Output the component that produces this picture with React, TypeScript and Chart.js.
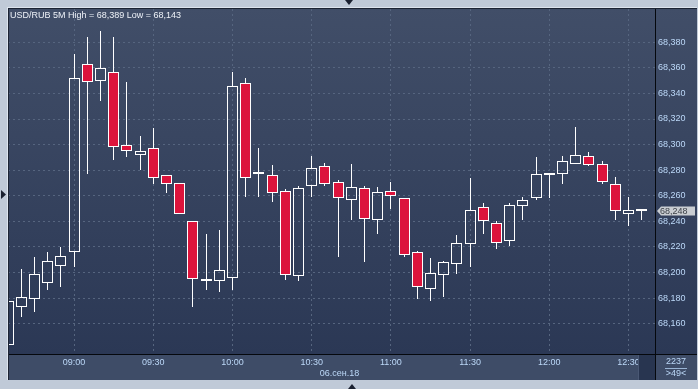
import React, { useEffect, useRef } from 'react';
import { Chart, registerables } from 'chart.js';

Chart.register(...registerables);

// ---------- data ----------
const TIMES = [
  '08:35', '08:40', '08:45', '08:50', '08:55',
  '09:00', '09:05', '09:10', '09:15', '09:20', '09:25',
  '09:30', '09:35', '09:40', '09:45', '09:50', '09:55',
  '10:00', '10:05', '10:10', '10:15', '10:20', '10:25',
  '10:30', '10:35', '10:40', '10:45', '10:50', '10:55',
  '11:00', '11:05', '11:10', '11:15', '11:20', '11:25',
  '11:30', '11:35', '11:40', '11:45', '11:50', '11:55',
  '12:00', '12:05', '12:10', '12:15', '12:20', '12:25',
  '12:30', '12:35', '12:40',
];

const OPEN = [
  68.143, 68.173, 68.179, 68.192, 68.205,
  68.216, 68.363, 68.350, 68.357, 68.300, 68.292,
  68.297, 68.276, 68.270, 68.240, 68.193, 68.193,
  68.196, 68.348, 68.277, 68.276, 68.264, 68.197,
  68.268, 68.283, 68.271, 68.257, 68.266, 68.241,
  68.264, 68.258, 68.216, 68.187, 68.198, 68.207,
  68.222, 68.251, 68.239, 68.225, 68.252, 68.258,
  68.276, 68.277, 68.285, 68.291, 68.285, 68.269,
  68.246, 68.248, null,
];

const HIGH = [
  68.178, 68.203, 68.212, 68.216, 68.220,
  68.371, 68.384, 68.389, 68.384, 68.349, 68.307,
  68.313, 68.276, 68.270, 68.240, 68.230, 68.233,
  68.357, 68.352, 68.297, 68.284, 68.265, 68.268,
  68.291, 68.286, 68.272, 68.285, 68.268, 68.267,
  68.271, 68.258, 68.217, 68.211, 68.209, 68.229,
  68.274, 68.254, 68.240, 68.254, 68.259, 68.290,
  68.278, 68.291, 68.314, 68.294, 68.287, 68.275,
  68.259, 68.249, null,
];

const LOW = [
  68.143, 68.165, 68.169, 68.186, 68.189,
  68.204, 68.277, 68.334, 68.288, 68.290, 68.280,
  68.269, 68.262, 68.246, 68.173, 68.186, 68.185,
  68.186, 68.259, 68.259, 68.255, 68.194, 68.193,
  68.259, 68.268, 68.212, 68.241, 68.208, 68.230,
  68.250, 68.212, 68.179, 68.178, 68.181, 68.199,
  68.204, 68.230, 68.218, 68.221, 68.241, 68.257,
  68.258, 68.269, 68.285, 68.283, 68.269, 68.241,
  68.236, 68.241, null,
];

const CLOSE = [
  68.178, 68.181, 68.199, 68.209, 68.213,
  68.352, 68.349, 68.360, 68.298, 68.295, 68.295,
  68.274, 68.269, 68.246, 68.195, 68.195, 68.202,
  68.346, 68.274, 68.277, 68.262, 68.198, 68.266,
  68.282, 68.269, 68.258, 68.267, 68.242, 68.263,
  68.260, 68.214, 68.189, 68.200, 68.208, 68.223,
  68.249, 68.240, 68.223, 68.253, 68.257, 68.277,
  68.278, 68.287, 68.292, 68.284, 68.271, 68.248,
  68.249, 68.248, null,
];

const Y_TICKS = [68.16, 68.18, 68.2, 68.22, 68.24, 68.26, 68.28, 68.3, 68.32, 68.34, 68.36, 68.38];
const Y_MIN = 68.1363;
const Y_MAX = 68.406;
const X_LABEL_MINUTES = ['00', '30'];

const TITLE = 'USD/RUB 5M High = 68,389 Low = 68,143';
const DATE_LABEL = '06.сен.18';
const LAST_PRICE = 68.248;
const COUNT_LABEL = '2237';
const ZOOM_LABEL = '>49<';

// ---------- style ----------
const W = 698;
const H = 389;
const OUTER = '#c0cad8';
const PLOT_TOP = '#414e68';
const PLOT_BOTTOM = '#2b3855';
const AXIS_BAND = '#3e4c67';
const GRID = '#56657f';
const TICK_TEXT = '#bcd8f8';
const RED = '#dc143c';
const WHITE = '#ffffff';
const FONT = 'Liberation Sans, Arial, sans-serif';

const fmt = (v: number) => v.toFixed(3).replace('.', ',');

// snaps the library-computed bar geometry onto the pixel grid for crisp 1px lines
const snapPlugin = {
  id: 'snap',
  afterDatasetsUpdate(chart: any) {
    chart.data.datasets.forEach((_: any, di: number) => {
      chart.getDatasetMeta(di).data.forEach((el: any) => {
        if (el.x == null || isNaN(el.x)) return;
        el.x = Math.floor(el.x) + 0.5;
        el.y = Math.round(el.y);
        el.base = Math.round(el.base);
      });
    });
  },
};

const framePlugin = {
  id: 'frame',
  beforeDraw(chart: any) {
    const { ctx, chartArea: a } = chart;
    const panelL = a.left;
    const panelT = a.top - 1;
    const bandB = a.bottom + 26;
    ctx.save();
    ctx.fillStyle = OUTER;
    ctx.fillRect(0, 0, W, H);
    const g = ctx.createLinearGradient(0, panelT, 0, a.bottom);
    g.addColorStop(0, PLOT_TOP);
    g.addColorStop(1, PLOT_BOTTOM);
    ctx.fillStyle = g;
    ctx.fillRect(panelL, panelT, W - 1 - panelL, a.bottom - panelT);
    ctx.fillStyle = AXIS_BAND;
    ctx.fillRect(panelL, a.bottom, W - 1 - panelL, bandB - a.bottom);
    ctx.restore();
  },
  afterDraw(chart: any) {
    const { ctx, chartArea: a } = chart;
    const panelL = a.left;
    const panelT = a.top - 1;
    const bandB = a.bottom + 26;
    ctx.save();
    // dark box at the end of the time band
    ctx.fillStyle = '#283550';
    ctx.fillRect(a.right - 16, a.bottom + 1, 16, bandB - a.bottom - 1);
    ctx.fillStyle = '#4a5874';
    ctx.fillRect(a.right - 17, a.bottom + 1, 1, bandB - a.bottom - 1);
    // corner cell
    ctx.fillStyle = AXIS_BAND;
    ctx.fillRect(a.right + 1, a.bottom + 1, W - 2 - a.right, bandB - a.bottom - 1);

    // black separators
    ctx.fillStyle = '#05080d';
    ctx.fillRect(a.right, panelT, 1, bandB - panelT);
    ctx.fillRect(panelL, a.bottom, W - 1 - panelL, 1);
    // panel border
    ctx.fillStyle = '#1c2434';
    ctx.fillRect(panelL, panelT, 1, bandB - panelT);
    ctx.fillRect(panelL, panelT, W - 1 - panelL, 1);
    ctx.fillStyle = '#dde4ee';
    ctx.fillRect(panelL - 1, panelT - 1, 1, bandB - panelT + 1);
    ctx.fillRect(panelL - 1, panelT - 1, W - panelL, 1);

    // title
    ctx.font = `9px ${FONT}`;
    ctx.fillStyle = '#eef2f8';
    ctx.textAlign = 'left';
    ctx.textBaseline = 'alphabetic';
    ctx.fillText(TITLE, panelL + 2, panelT + 10);

    // date label
    ctx.font = `9px ${FONT}`;
    ctx.fillStyle = TICK_TEXT;
    ctx.textAlign = 'center';
    ctx.textBaseline = 'middle';
    ctx.fillText(DATE_LABEL, 339.5, a.bottom + 19.5);

    // corner texts
    const cx = (a.right + W - 1) / 2;
    ctx.fillText(COUNT_LABEL, cx, a.bottom + 8);
    ctx.fillText(ZOOM_LABEL, cx, a.bottom + 20);
    ctx.fillStyle = '#9ab4d4';
    ctx.fillRect(cx - 11, a.bottom + 14, 22, 1);

    // last price tag
    const y = chart.scales.y.getPixelForValue(LAST_PRICE);
    const x0 = a.right + 2;
    ctx.beginPath();
    ctx.moveTo(x0, y);
    ctx.lineTo(x0 + 4, y - 4.5);
    ctx.lineTo(W - 3, y - 4.5);
    ctx.lineTo(W - 3, y + 4.5);
    ctx.lineTo(x0 + 4, y + 4.5);
    ctx.closePath();
    ctx.fillStyle = '#c9cdd2';
    ctx.fill();
    ctx.fillStyle = '#3a3f46';
    ctx.textAlign = 'left';
    ctx.fillText(fmt(LAST_PRICE), x0 + 3, y + 0.5);

    // frame arrows
    ctx.fillStyle = '#1a2030';
    ctx.beginPath();
    ctx.moveTo(345, 0); ctx.lineTo(353, 0); ctx.lineTo(349, 5); ctx.closePath(); ctx.fill();
    ctx.beginPath();
    ctx.moveTo(1, 190); ctx.lineTo(6, 194.5); ctx.lineTo(1, 199); ctx.closePath(); ctx.fill();
    ctx.beginPath();
    ctx.moveTo(348, 389); ctx.lineTo(356, 389); ctx.lineTo(352, 384); ctx.closePath(); ctx.fill();
    ctx.restore();
  },
};

export default function App() {
  const ref = useRef<HTMLCanvasElement>(null);

  useEffect(() => {
    if (!ref.current) return;
    const has = (i: number) => OPEN[i] != null;
    const isUp = (i: number) => has(i) && (CLOSE[i] as number) >= (OPEN[i] as number);
    const body = TIMES.map((_, i) => (has(i) ? [OPEN[i], CLOSE[i]] : null));
    const upperWick = TIMES.map((_, i) =>
      has(i) ? [Math.max(OPEN[i] as number, CLOSE[i] as number), HIGH[i]] : null);
    const lowerWick = TIMES.map((_, i) =>
      has(i) ? [LOW[i], Math.min(OPEN[i] as number, CLOSE[i] as number)] : null);
    const isMajor = (i: number) => X_LABEL_MINUTES.includes((TIMES[i] || '').slice(3));

    const chart = new Chart(ref.current, {
      type: 'bar',
      data: {
        labels: TIMES,
        datasets: [
          {
            data: body as any,
            backgroundColor: TIMES.map((_, i) => (isUp(i) ? 'rgba(0,0,0,0)' : RED)),
            borderColor: WHITE,
            borderWidth: 1,
            borderSkipped: false,
            barThickness: 11,
            minBarLength: 2,
            grouped: false,
            inflateAmount: 0,
            clip: 0,
          } as any,
          {
            data: upperWick as any,
            backgroundColor: WHITE,
            borderWidth: 0,
            barThickness: 1,
            grouped: false,
            inflateAmount: 0,
            clip: 0,
          } as any,
          {
            data: lowerWick as any,
            backgroundColor: WHITE,
            borderWidth: 0,
            barThickness: 1,
            grouped: false,
            inflateAmount: 0,
            clip: 0,
          } as any,
        ],
      },
      options: {
        animation: false,
        responsive: false,
        devicePixelRatio: 1,
        events: [],
        layout: { padding: { left: 8, top: 9, right: 1, bottom: 9 } },
        plugins: {
          legend: { display: false },
          tooltip: { enabled: false },
          title: { display: false },
        },
        scales: {
          x: {
            type: 'category',
            offset: false,
            grid: {
              offset: false,
              drawTicks: false,
              color: (c: any) => (isMajor(c.index) ? GRID : 'rgba(0,0,0,0)'),
              lineWidth: 1,
            },
            border: { display: false, dash: [2, 3] },
            ticks: {
              autoSkip: false,
              maxRotation: 0,
              padding: 3,
              color: TICK_TEXT,
              font: { family: FONT, size: 9 },
              callback: (_v: any, i: number) => (isMajor(i) ? TIMES[i] : ''),
            },
            afterFit: (s: any) => { s.height = 26; },
          },
          y: {
            type: 'linear',
            position: 'right',
            min: Y_MIN,
            max: Y_MAX,
            grid: { drawTicks: false, color: GRID, lineWidth: 1 },
            border: { display: false, dash: [2, 3] },
            afterBuildTicks: (s: any) => { s.ticks = Y_TICKS.map((v) => ({ value: v })); },
            ticks: {
              padding: 3,
              color: TICK_TEXT,
              font: { family: FONT, size: 9 },
              callback: (v: any) => fmt(Number(v)),
            },
            afterFit: (s: any) => { s.width = 42; },
          },
        },
      } as any,
      plugins: [snapPlugin, framePlugin],
    });
    return () => chart.destroy();
  }, []);

  return (
    <div style={{ position: 'absolute', left: 0, top: 0, width: W, height: H }}>
      <canvas ref={ref} width={W} height={H} style={{ display: 'block', width: W, height: H }} />
    </div>
  );
}
